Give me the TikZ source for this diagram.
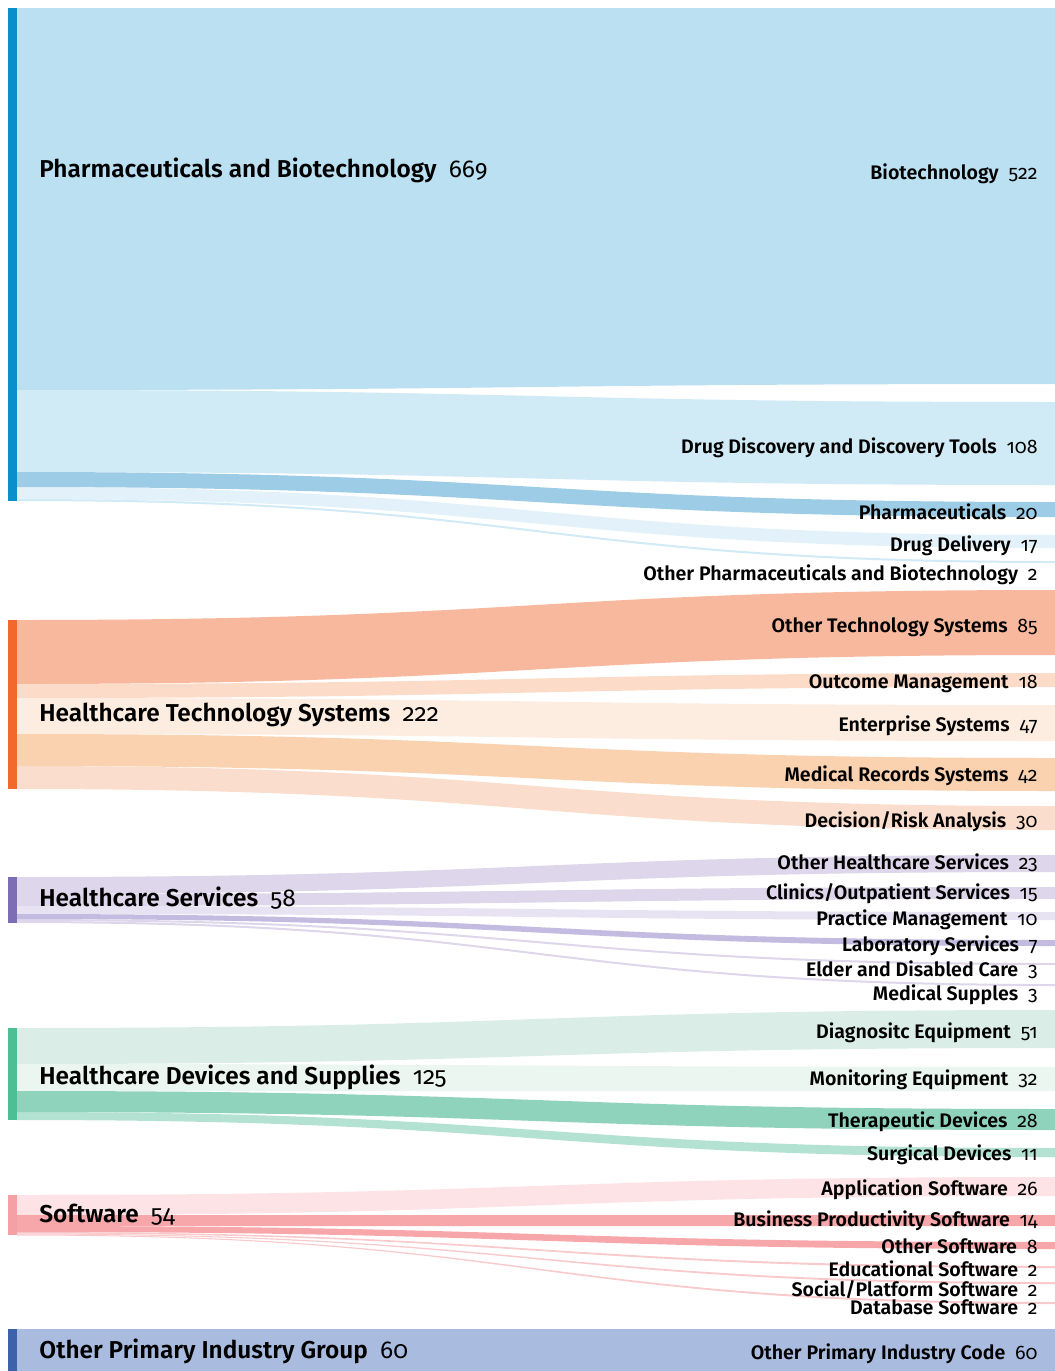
\documentclass[tikz,border=0pt]{standalone}
\usepackage{fontspec}
\setmainfont{Fira Sans}[Numbers=OldStyle, BoldFont={Fira Sans SemiBold}]
\usepackage{xcolor}

\definecolor{pharmabar}{HTML}{0B8FCB}
\definecolor{biotech}{HTML}{BAE0F1}
\definecolor{drugdisc}{HTML}{D0EBF6}
\definecolor{pharmaceut}{HTML}{9DCDE6}
\definecolor{drugdeliv}{HTML}{E3F2FA}
\definecolor{techbar}{HTML}{F26A2B}
\definecolor{othertech}{HTML}{F8B89D}
\definecolor{outcome}{HTML}{FCDCC9}
\definecolor{enterprise}{HTML}{FDEDE0}
\definecolor{medrec}{HTML}{FBD2AF}
\definecolor{decision}{HTML}{FBDDCD}
\definecolor{servbar}{HTML}{7D6DB5}
\definecolor{servlight}{HTML}{DED6EA}
\definecolor{servpale}{HTML}{E7E3F2}
\definecolor{servmid}{HTML}{C3BCE0}
\definecolor{devbar}{HTML}{4DBF94}
\definecolor{diag}{HTML}{DAEEE7}
\definecolor{monit}{HTML}{EBF6F1}
\definecolor{therap}{HTML}{8FD3BC}
\definecolor{surg}{HTML}{B4E2D2}
\definecolor{softbar}{HTML}{F5A0A4}
\definecolor{softlight}{HTML}{FDE3E5}
\definecolor{softmid}{HTML}{F7A6AA}
\definecolor{softthin}{HTML}{F9C9CC}
\definecolor{otherbar}{HTML}{3D62AC}
\definecolor{otherband}{HTML}{A9BCE0}

\tikzset{
	grouplabel/.style={
		anchor=west,
		inner sep=0pt,
		text height=0.8em,
		text depth=0.1em,
		font=\fontsize{12.2}{14}\selectfont
	},
	leaflabel/.style={
		anchor=east,
		inner sep=0pt,
		text height=0.8em,
		text depth=0.1em,
		font=\fontsize{9.8}{11}\selectfont
	}
}
\newcommand{\flow}[5]{%
	\fill[#1] (17,#2) .. controls (536,#2) and (536,#4) .. (1055,#4)
		-- (1055,#5) .. controls (536,#5) and (536,#3) .. (17,#3) -- cycle;}
\newcommand{\lab}[2]{\textbf{#1}\hspace{0.5em}{\mdseries #2}}

\begin{document}
\begin{tikzpicture}[x=0.5pt,y=-0.5pt]
	\useasboundingbox (0,0) rectangle (1055,1371);

	\flow{biotech}{8}{390}{8}{384}
	\flow{drugdisc}{390}{472}{402}{485}
	\flow{drugdeliv}{487}{499}{535}{548}
	\flow{drugdisc}{499}{501}{561}{563}
	\flow{pharmaceut}{472}{487}{502}{517}
	\fill[pharmabar] (8,8) rectangle (17,501);

	\flow{othertech}{620}{684}{590}{655}
	\flow{outcome}{684}{698}{673}{687}
	\flow{enterprise}{698}{734}{705}{741}
	\flow{decision}{766}{789}{806}{830}
	\flow{medrec}{734}{766}{758}{791}
	\fill[techbar] (8,620) rectangle (17,789);

	\flow{servlight}{877}{894}{855}{872}
	\flow{servlight}{894}{906}{887}{899}
	\flow{servpale}{906}{914}{912}{920}
	\flow{servlight}{919}{921}{963}{965}
	\flow{servlight}{921}{923}{984}{986}
	\flow{servmid}{914}{919}{940}{946}
	\fill[servbar] (8,877) rectangle (17,923);

	\flow{diag}{1028}{1064}{1010}{1048}
	\flow{monit}{1064}{1091}{1067}{1091}
	\flow{surg}{1112}{1120}{1148}{1157}
	\flow{therap}{1091}{1112}{1109}{1130}
	\fill[devbar] (8,1028) rectangle (17,1120);

	\flow{softlight}{1195}{1215}{1177}{1196}
	\flow{softthin}{1232}{1233.5}{1266}{1268}
	\flow{softthin}{1233.5}{1234.5}{1282}{1284}
	\flow{softthin}{1234.5}{1235.5}{1302}{1304}
	\flow{softmid}{1226}{1232}{1242}{1249}
	\flow{softmid}{1215}{1226}{1215}{1226}
	\fill[softbar] (8,1195) rectangle (17,1235);

	\fill[otherband] (17,1329) rectangle (1055,1371);
	\fill[otherbar] (8,1329) rectangle (17,1371);

	\draw node[grouplabel] (Pharma) at (39,170) {\lab{Pharmaceuticals and Biotechnology}{669}};
	\draw node[grouplabel] (TechSys) at (39,714) {\lab{Healthcare Technology Systems}{222}};
	\draw node[grouplabel] (Services) at (39,899) {\lab{Healthcare Services}{58}};
	\draw node[grouplabel] (Devices) at (39,1077) {\lab{Healthcare Devices and Supplies}{125}};
	\draw node[grouplabel] (Software) at (39,1215) {\lab{Software}{54}};
	\draw node[grouplabel] (OtherGroup) at (39,1351) {\lab{Other Primary Industry Group}{60}};

	\draw node[leaflabel] (Biotech) at (1038,172) {\lab{Biotechnology}{522}};
	\draw node[leaflabel] (DrugDisc) at (1038,446) {\lab{Drug Discovery and Discovery Tools}{108}};
	\draw node[leaflabel] (Pharmaceut) at (1038,512) {\lab{Pharmaceuticals}{20}};
	\draw node[leaflabel] (DrugDeliv) at (1038,544) {\lab{Drug Delivery}{17}};
	\draw node[leaflabel] (OtherPharma) at (1038,573) {\lab{Other Pharmaceuticals and Biotechnology}{2}};
	\draw node[leaflabel] (OtherTech) at (1038,625) {\lab{Other Technology Systems}{85}};
	\draw node[leaflabel] (Outcome) at (1038,681) {\lab{Outcome Management}{18}};
	\draw node[leaflabel] (Enterprise) at (1038,724) {\lab{Enterprise Systems}{47}};
	\draw node[leaflabel] (MedRec) at (1038,774) {\lab{Medical Records Systems}{42}};
	\draw node[leaflabel] (Decision) at (1038,820) {\lab{Decision/Risk Analysis}{30}};
	\draw node[leaflabel] (OtherServ) at (1038,862) {\lab{Other Healthcare Services}{23}};
	\draw node[leaflabel] (Clinics) at (1038,892) {\lab{Clinics/Outpatient Services}{15}};
	\draw node[leaflabel] (Practice) at (1038,918) {\lab{Practice Management}{10}};
	\draw node[leaflabel] (Lab) at (1038,944) {\lab{Laboratory Services}{7}};
	\draw node[leaflabel] (Elder) at (1038,969) {\lab{Elder and Disabled Care}{3}};
	\draw node[leaflabel] (MedSupp) at (1038,993) {\lab{Medical Supples}{3}};
	\draw node[leaflabel] (Diag) at (1038,1031) {\lab{Diagnositc Equipment}{51}};
	\draw node[leaflabel] (Monit) at (1038,1078) {\lab{Monitoring Equipment}{32}};
	\draw node[leaflabel] (Therap) at (1038,1120) {\lab{Therapeutic Devices}{28}};
	\draw node[leaflabel] (Surg) at (1038,1153) {\lab{Surgical Devices}{11}};
	\draw node[leaflabel] (AppSoft) at (1038,1188) {\lab{Application Software}{26}};
	\draw node[leaflabel] (BizSoft) at (1038,1219) {\lab{Business Productivity Software}{14}};
	\draw node[leaflabel] (OtherSoft) at (1038,1246) {\lab{Other Software}{8}};
	\draw node[leaflabel] (EduSoft) at (1038,1269) {\lab{Educational Software}{2}};
	\draw node[leaflabel] (SocialSoft) at (1038,1289) {\lab{Social/Platform Software}{2}};
	\draw node[leaflabel] (DataSoft) at (1038,1307) {\lab{Database Software}{2}};
	\draw node[leaflabel] (OtherCode) at (1038,1352) {\lab{Other Primary Industry Code}{60}};
\end{tikzpicture}
\end{document}
